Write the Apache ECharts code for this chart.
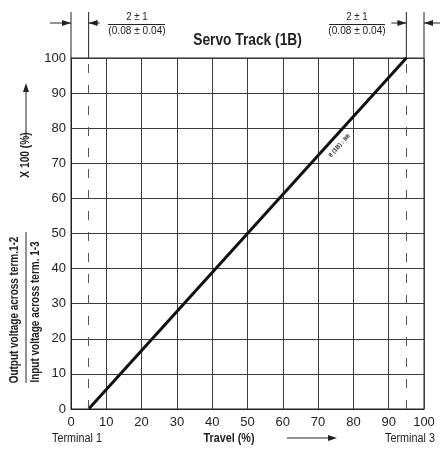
<!DOCTYPE html>
<html>
<head>
<meta charset="utf-8">
<script src="https://cdn.jsdelivr.net/npm/echarts@6/dist/echarts.min.js"></script>
<style>
  html, body { margin: 0; padding: 0; background: #fff; }
  #chart { width: 440px; height: 449px; }
</style>
</head>
<body>
<div id="chart"></div>
<script>
const FONT = "'Liberation Sans Narrow', 'Arial Narrow', 'Liberation Sans', sans-serif";

// servo track: output % vs travel %
const trackTravel = [5, 95];
const trackOutput = [0, 100];
const terminalLimits = [5, 95];
const xTicks = [0, 10, 20, 30, 40, 50, 60, 70, 80, 90, 100];
const yTicks = [0, 10, 20, 30, 40, 50, 60, 70, 80, 90, 100];
const toleranceTop = '2 ± 1';
const toleranceBottom = '(0.08 ± 0.04)';
const trackLabel = '8 (1B) : 88';

var chart = echarts.init(document.getElementById('chart'), null, { renderer: 'canvas' });

function axisCommon(ticks) {
  return {
    type: 'value',
    min: ticks[0],
    max: ticks[ticks.length - 1],
    interval: ticks[1] - ticks[0],
    axisLine: { show: true, lineStyle: { color: '#222', width: 1 } },
    axisTick: { show: false },
    splitLine: { show: true, lineStyle: { color: '#3a3a3a', width: 1 } },
    axisLabel: { fontFamily: FONT, fontSize: 13, color: '#222' }
  };
}

var xAxis = axisCommon(xTicks);
xAxis.axisLabel.margin = 7;
var yAxis = axisCommon(yTicks);
yAxis.axisLabel.margin = 5;

chart.setOption({
  animation: false,
  grid: { left: 71, right: 16, top: 58, bottom: 40, show: true, borderColor: '#222', borderWidth: 1 },
  xAxis: xAxis,
  yAxis: yAxis,
  series: [{
    type: 'line',
    data: trackTravel.map(function (x, i) { return [x, trackOutput[i]]; }),
    symbol: 'none',
    lineStyle: { color: '#111', width: 3 },
    markLine: {
      silent: true,
      symbol: 'none',
      label: { show: false },
      lineStyle: { color: '#555', type: [9, 12], width: 1 },
      data: terminalLimits.map(function (x) { return { xAxis: x }; })
    }
  }]
});

function buildAnnotations() {
  function px(x, y) { return chart.convertToPixel({ gridIndex: 0 }, [x, y]); }

  var gridTop = px(0, 100)[1];
  var x0 = px(0, 0)[0], x5 = px(terminalLimits[0], 0)[0];
  var x95 = px(terminalLimits[1], 0)[0], x100 = px(100, 0)[0];
  var arrowY = 23;
  var g = [];

  function line(x1, y1, x2, y2, w) {
    g.push({ type: 'line', shape: { x1: x1, y1: y1, x2: x2, y2: y2 }, style: { stroke: '#222', lineWidth: w || 1 } });
  }
  function head(x, y, dir) {
    var pts;
    if (dir === 'r') pts = [[x, y], [x - 9, y - 3], [x - 9, y + 3]];
    else if (dir === 'l') pts = [[x, y], [x + 9, y - 3], [x + 9, y + 3]];
    else pts = [[x, y], [x - 3, y + 9], [x + 3, y + 9]];
    g.push({ type: 'polygon', shape: { points: pts }, style: { fill: '#222' } });
  }
  // narrow face is missing, so squeeze the regular one
  function text(t, x, y, size, bold, rot, squeeze) {
    g.push({
      type: 'text', x: x, y: y, rotation: rot || 0, scaleX: squeeze || 0.88,
      style: { text: t, fontFamily: FONT, fontSize: size, fontWeight: bold ? 'bold' : 'normal',
        fill: '#222', align: 'center', verticalAlign: 'middle' }
    });
  }

  // vertical extensions above grid
  [x0, x5, x95, x100].forEach(function (x) { line(x, 12, x, gridTop); });

  // tolerance arrows
  line(50, arrowY, x0, arrowY); head(x0, arrowY, 'r');
  line(x5, arrowY, x5 + 11, arrowY); head(x5, arrowY, 'l');
  line(x95 - 15, arrowY, x95, arrowY); head(x95, arrowY, 'r');
  line(x100, arrowY, 440, arrowY); head(x100, arrowY, 'l');

  // tolerance fractions
  [[137, 108, 165], [357, 329, 385]].forEach(function (f) {
    text(toleranceTop, f[0], 17, 11);
    line(f[1], 24.5, f[2], 24.5);
    text(toleranceBottom, f[0], 31, 11, false, 0, 0.92);
  });

  // title
  text('Servo Track (1B)', (x0 + x100) / 2, 41, 16, true, 0, 0.86);

  // y axis label
  var R = Math.PI / 2;
  text('Output voltage across term.1-2', 15, 310, 12, true, R, 0.83);
  line(26, 232, 26, 383);
  text('Input voltage across term. 1-3', 36, 312, 12, true, R, 0.83);
  text('X 100 (%)', 26, 155, 12, true, R, 0.85);
  line(26, 138, 26, 86); head(26, 83, 'u');

  // bottom labels
  text('Terminal 1', 77, 439, 12, false, 0, 0.9);
  text('Travel (%)', 229, 439, 12, true, 0, 0.9);
  line(287, 438, 330, 438); head(337, 438, 'r');
  text('Terminal 3', 410, 439, 12, false, 0, 0.9);

  // label along track
  var lp = px(76, 75);
  var p1 = px(trackTravel[0], trackOutput[0]), p2 = px(trackTravel[1], trackOutput[1]);
  var ang = Math.atan2(p1[1] - p2[1], p2[0] - p1[0]);
  text(trackLabel, lp[0], lp[1], 6, true, ang, 1);

  chart.setOption({ graphic: g });
}

buildAnnotations();
</script>
</body>
</html>
